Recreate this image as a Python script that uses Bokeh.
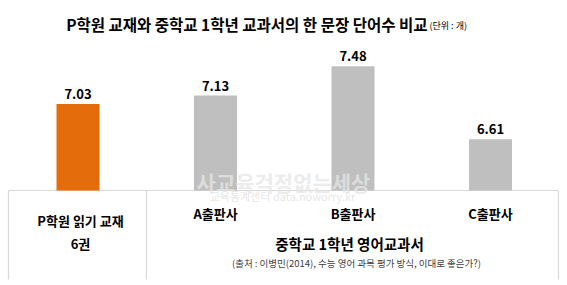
from bokeh.plotting import figure
from bokeh.models import Range1d
from bokeh.core.properties import value
from bokeh.embed import file_html
from bokeh.resources import INLINE

# ---- data ----
categories = ["P학원 읽기 교재", "A출판사", "B출판사", "C출판사"]
values = [7.03, 7.13, 7.48, 6.61]
value_labels = ["7.03", "7.13", "7.48", "6.61"]
bar_colors = ["#E46C0A", "#BFBFBF", "#BFBFBF", "#BFBFBF"]
y_min = 6.0
title_main = "P학원 교재와 중학교 1학년 교과서의 한 문장 단어수 비교"
title_unit = "(단위 : 개)"
sub_p = "6권"
group_label = "중학교 1학년 영어교과서"
source_text = "(출처 : 이병민(2014), 수능 영어 과목 평가 방식, 이대로 좋은가?)"
watermark1 = "사교육걱정없는세상"
watermark2 = "교육통계센터 data.noworry.kr"

W, H = 567, 285
STEP = 137.5          # px per category
LEFT = 8.75           # px left edge of category area
BASE_PX = 190         # px of y_min
PPU = 84.0            # px per unit

X0 = -0.5 - LEFT / STEP
Y_TOP = y_min + BASE_PX / PPU
Y_BOT = y_min - (H - BASE_PX) / PPU

def px(x):
    return X0 + x / STEP

def py(y):
    return y_min + (BASE_PX - y) / PPU

FONT = value("Noto Sans CJK KR")

p = figure(width=W, height=H, output_backend="svg", toolbar_location=None,
           x_range=Range1d(X0, X0 + W / STEP), y_range=Range1d(Y_BOT, Y_TOP),
           min_border=0, min_border_left=0, min_border_right=0,
           min_border_top=0, min_border_bottom=0)
p.axis.visible = False
p.grid.visible = False
p.outline_line_color = None
p.background_fill_color = "white"
p.border_fill_color = "white"

xs = list(range(len(categories)))

# table lines
line_col = "#D9D9D9"
p.segment(x0=[px(8)], y0=[y_min], x1=[px(558)], y1=[y_min], line_color=line_col, line_width=1.2)
p.segment(x0=[px(8), px(146), px(558)], y0=[y_min] * 3,
          x1=[px(8), px(146), px(558)], y1=[py(279)] * 3, line_color=line_col, line_width=1.2)

# bars
p.vbar(x=xs, top=values, bottom=y_min, width=43 / STEP, fill_color=bar_colors, line_color=None)

# value labels
p.text(x=xs, y=[v + 5 / PPU for v in values], text=value_labels, text_font=FONT,
       text_font_style="bold", text_font_size="13px", text_align="center",
       text_baseline="bottom", text_color="#000000")

# watermark
p.text(x=[px(283)], y=[py(181)], text=[watermark1], text_font=FONT, text_font_style="bold",
       text_font_size="21px", text_align="center", text_baseline="middle",
       text_color="#E6E6E6", text_alpha=0.75)
p.text(x=[px(282)], y=[py(195)], text=[watermark2], text_font=FONT,
       text_font_size="11px", text_align="center", text_baseline="middle",
       text_color="#E0E0E0", text_alpha=0.8)

# category labels
p.text(x=[px(80)], y=[py(220)], text=[categories[0]], text_font=FONT, text_font_style="bold",
       text_font_size="13px", text_align="center", text_baseline="middle", text_color="#000000")
p.text(x=[px(80)], y=[py(243)], text=[sub_p], text_font=FONT, text_font_style="bold",
       text_font_size="13px", text_align="center", text_baseline="middle", text_color="#000000")
p.text(x=xs[1:], y=[py(213)] * 3, text=categories[1:], text_font=FONT, text_font_style="bold",
       text_font_size="13px", text_align="center", text_baseline="middle", text_color="#000000")
p.text(x=[px(349)], y=[py(243)], text=[group_label], text_font=FONT, text_font_style="bold",
       text_font_size="14.5px", text_align="center", text_baseline="middle", text_color="#000000")
p.text(x=[px(356)], y=[py(262)], text=[source_text], text_font=FONT,
       text_font_size="9.5px", text_align="center", text_baseline="middle", text_color="#404040")

# title
p.text(x=[px(427)], y=[py(23)], text=[title_main], text_font=FONT, text_font_style="bold",
       text_font_size="15.5px", text_align="right", text_baseline="middle", text_color="#000000")
p.text(x=[px(429)], y=[py(25)], text=[title_unit], text_font=FONT,
       text_font_size="9px", text_align="left", text_baseline="middle", text_color="#000000")

open("out.html", "w").write(file_html(p, INLINE))
